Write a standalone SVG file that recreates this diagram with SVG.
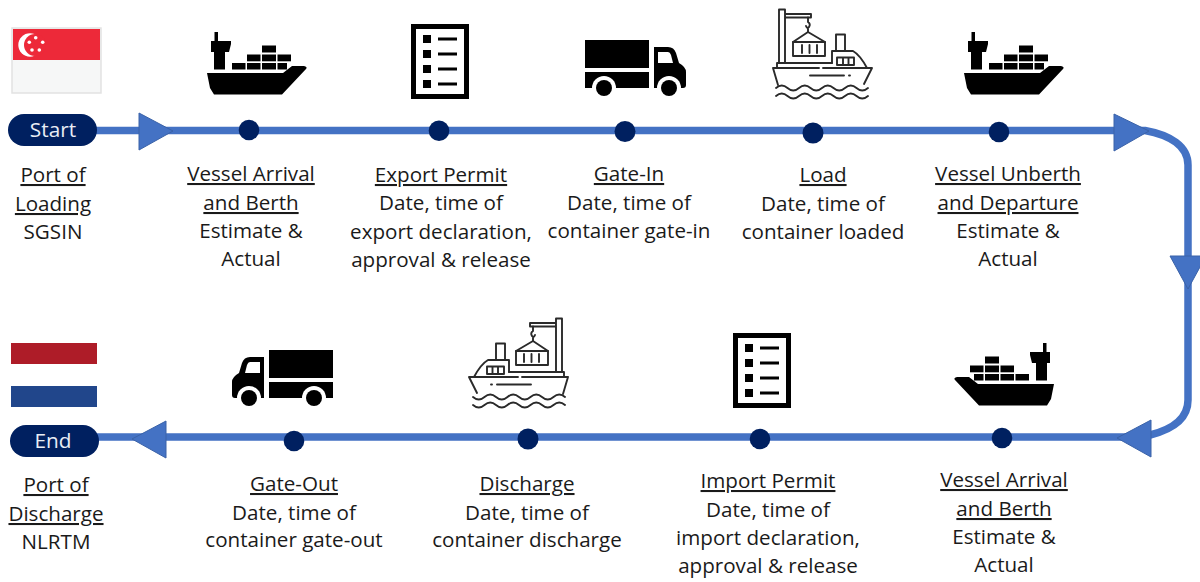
<svg xmlns="http://www.w3.org/2000/svg" width="1200" height="582" viewBox="0 0 1200 582">
<style>
text{font-family:"Open Sans","Noto Sans","Liberation Sans",sans-serif;font-size:20.6px;fill:#1a1a1a;text-anchor:middle}
.u{text-decoration:underline}
.pill{fill:#002060}
.pt{fill:#e8edf5;font-size:20.8px}
.dot{fill:#002060}
.line{fill:none;stroke:#4472C4;stroke-width:7.500}
.tri{fill:#4472C4;stroke:#3a62a8;stroke-width:1}
.o{fill:none;stroke:#2a2a2a;stroke-width:1.900;stroke-linecap:round;stroke-linejoin:round}
</style>
<defs>
<g id="ship" fill="#000">
<rect x="214.500" y="32" width="3.500" height="10"/>
<path d="M211 41H231V44L229 52H225V69.500H214V52H211Z"/>
<rect x="232" y="63" width="13.500" height="6.500"/>
<rect x="247" y="63" width="13.500" height="6.500"/><rect x="262" y="63" width="14" height="6.500"/><rect x="277.500" y="63" width="9.500" height="6.500"/>
<rect x="247" y="54.500" width="13.500" height="6.800"/><rect x="262" y="54.500" width="14" height="6.800"/><rect x="277.500" y="54.500" width="13.500" height="6.800"/>
<rect x="262" y="45.500" width="14" height="7"/>
<path d="M207 73H283L292 66H304Q308 67 306 69L282 94.500H214L210 88Z"/>
</g>
<g id="list">
<rect x="413.500" y="26.500" width="53" height="70" fill="none" stroke="#000" stroke-width="5"/>
<g fill="#000">
<rect x="423" y="35" width="8" height="8"/><rect x="423" y="50" width="8" height="8"/><rect x="423" y="65" width="8" height="8"/><rect x="423" y="80" width="8" height="8"/>
<rect x="438" y="37.500" width="19" height="3"/><rect x="438" y="52.500" width="19" height="3"/><rect x="438" y="67.500" width="19" height="3"/><rect x="438" y="82.500" width="19" height="3"/>
</g>
</g>
<g id="truck">
<rect x="585" y="40" width="64" height="28" fill="#000"/>
<rect x="585" y="72" width="64" height="16" fill="#000"/>
<path d="M654 47H668Q674 47 676 53L679 63Q686 67 686 72V85Q686 88 683 88H654Z" fill="#000"/>
<path d="M658 52H668Q670 52 671 55L673 63H658Z" fill="#fff"/>
<circle cx="604" cy="88" r="12" fill="#fff"/><circle cx="669" cy="88" r="12" fill="#fff"/>
<circle cx="604" cy="88" r="8" fill="#000"/><circle cx="669" cy="88" r="8" fill="#000"/>
</g>
<g id="crane" class="o">
<path d="M779 63V9.500H785V63M785 14H811V17.500H785"/>
<path d="M808 17.500V22Q811 24 809 27Q807 29 806 26M808 29V32"/>
<path d="M793 42L808 32L825 42"/>
<rect x="793" y="42" width="32" height="14"/>
<path d="M802 45V53M809.500 45V53M817 45V53"/>
<path d="M836 50V34.500H845V50"/>
<path d="M832 63V51H853Q860 55 867 68"/>
<rect x="837" y="57.500" width="17" height="7.500"/>
<path d="M843 58V65M848.500 58V65"/>
<path d="M777 68V63H832M773 68H819M823 68H872L864 84M773 68L778 85"/>
<path d="M810 75.500H844M849 75.500H850"/>
<path d="M776 88q5.750-5 11.500 0t11.500 0t11.500 0t11.500 0t11.500 0t11.500 0t11.500 0t11.500 0"/>
<path d="M776 96q5.750-5 11.500 0t11.500 0t11.500 0t11.500 0t11.500 0t11.500 0t11.500 0t11.500 0"/>
</g>
</defs>

<g id="connectors">
<path class="line" d="M90 130.500H1145C1170 135 1188 146 1188 165V400C1188 420 1170 430 1150 435L1140 437H90"/>
<polygon class="tri" points="139,113 139,150 173,131"/>
<polygon class="tri" points="1114,114 1114,151 1149,131"/>
<polygon class="tri" points="1170,256 1206,256 1188,289"/>
<polygon class="tri" points="1151,420 1151,457 1117,438"/>
<polygon class="tri" points="166,421 166,458 132,439"/>
</g>

<g id="start">
<rect class="pill" x="8" y="114" width="89" height="32" rx="16"/>
<text class="pt" x="53" y="137">Start</text>
</g>
<g id="flag-sg">
<rect x="12" y="28" width="89" height="65" fill="#f6f7f7" stroke="#e2e2e2" stroke-width="1.500"/>
<rect x="13" y="29" width="87" height="31" fill="#ED2939"/>
<circle cx="30" cy="45" r="11.700" fill="#fff"/><circle cx="35" cy="45" r="11" fill="#ED2939"/>
<g fill="#fff"><circle cx="35.700" cy="37.700" r="1.800"/><circle cx="42.700" cy="42.300" r="1.800"/><circle cx="39.300" cy="50" r="1.800"/><circle cx="32" cy="50" r="1.800"/><circle cx="29.300" cy="42.300" r="1.800"/></g>
</g>
<g id="port-of-loading">
<text class="u" x="53" y="182">Port of</text>
<text class="u" x="53" y="211">Loading</text>
<text x="53" y="239">SGSIN</text>
</g>
<g id="vessel-arrival-1">
<use href="#ship"/>
<circle class="dot" cx="249" cy="130" r="10.300"/>
<text class="u" x="251" y="181">Vessel Arrival</text>
<text class="u" x="251" y="210">and Berth</text>
<text x="251" y="238">Estimate &amp;</text>
<text x="251" y="266">Actual</text>
</g>
<g id="export-permit">
<use href="#list"/>
<circle class="dot" cx="439" cy="130.700" r="10.300"/>
<text class="u" x="441" y="182">Export Permit</text>
<text x="441" y="210">Date, time of</text>
<text x="441" y="239">export declaration,</text>
<text x="441" y="267">approval &amp; release</text>
</g>
<g id="gate-in">
<use href="#truck"/>
<circle class="dot" cx="625" cy="131.500" r="10.500"/>
<text class="u" x="629" y="181">Gate-In</text>
<text x="629" y="210">Date, time of</text>
<text x="629" y="238">container gate-in</text>
</g>
<g id="load">
<use href="#crane"/>
<circle class="dot" cx="813" cy="133" r="10.500"/>
<text class="u" x="823" y="182">Load</text>
<text x="823" y="211">Date, time of</text>
<text x="823" y="239">container loaded</text>
</g>
<g id="vessel-unberth">
<use href="#ship" transform="translate(757 0)"/>
<circle class="dot" cx="999" cy="132" r="10.300"/>
<text class="u" x="1008" y="181">Vessel Unberth</text>
<text class="u" x="1008" y="210">and Departure</text>
<text x="1008" y="238">Estimate &amp;</text>
<text x="1008" y="266">Actual</text>
</g>
<g id="vessel-arrival-2">
<use href="#ship" transform="translate(1261 311) scale(-1 1)"/>
<circle class="dot" cx="1002" cy="438" r="10.300"/>
<text class="u" x="1004" y="487">Vessel Arrival</text>
<text class="u" x="1004" y="516">and Berth</text>
<text x="1004" y="544">Estimate &amp;</text>
<text x="1004" y="572">Actual</text>
</g>
<g id="import-permit">
<use href="#list" transform="translate(322 309)"/>
<circle class="dot" cx="760" cy="439" r="10.300"/>
<text class="u" x="768" y="488">Import Permit</text>
<text x="768" y="517">Date, time of</text>
<text x="768" y="545">import declaration,</text>
<text x="768" y="573">approval &amp; release</text>
</g>
<g id="discharge">
<use href="#crane" transform="translate(1341 309) scale(-1 1)"/>
<circle class="dot" cx="528" cy="439" r="10.500"/>
<text class="u" x="527" y="491">Discharge</text>
<text x="527" y="520">Date, time of</text>
<text x="527" y="547">container discharge</text>
</g>
<g id="gate-out">
<use href="#truck" transform="translate(918 310) scale(-1 1)"/>
<circle class="dot" cx="294" cy="441" r="10.300"/>
<text class="u" x="294" y="491">Gate-Out</text>
<text x="294" y="520">Date, time of</text>
<text x="294" y="547">container gate-out</text>
</g>
<g id="flag-nl">
<rect x="11" y="343" width="86" height="21" fill="#AE1C28"/>
<rect x="11" y="386" width="86" height="21" fill="#21468B"/>
</g>
<g id="end">
<rect class="pill" x="10" y="425" width="89" height="32" rx="16"/>
<text class="pt" x="53" y="448">End</text>
</g>
<g id="port-of-discharge">
<text class="u" x="56" y="492">Port of</text>
<text class="u" x="56" y="521">Discharge</text>
<text x="56" y="549">NLRTM</text>
</g>
</svg>
